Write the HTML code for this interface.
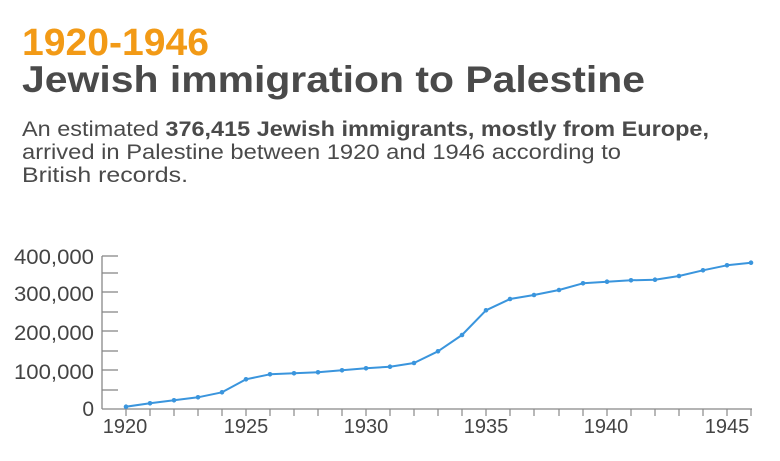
<!DOCTYPE html>
<html><head><meta charset="utf-8"><style>
html,body{margin:0;padding:0;background:#fff;}
svg{display:block;font-family:"Liberation Sans",sans-serif;}
</style></head><body>
<svg width="780" height="461" viewBox="0 0 780 461" xmlns="http://www.w3.org/2000/svg">
<text x="22" y="55" font-size="38" font-weight="bold" fill="#F29A16" textLength="187" lengthAdjust="spacingAndGlyphs">1920-1946</text>
<text x="22" y="92" font-size="37" font-weight="bold" fill="#4a4a4a" textLength="623" lengthAdjust="spacingAndGlyphs">Jewish immigration to Palestine</text>
<text x="22" y="136" font-size="21" fill="#4a4a4a" textLength="687" lengthAdjust="spacingAndGlyphs">An estimated <tspan font-weight="bold">376,415 Jewish immigrants, mostly from Europe,</tspan></text>
<text x="22" y="159" font-size="21" fill="#4a4a4a" textLength="599" lengthAdjust="spacingAndGlyphs">arrived in Palestine between 1920 and 1946 according to</text>
<text x="22" y="182" font-size="21" fill="#4a4a4a" textLength="166" lengthAdjust="spacingAndGlyphs">British records.</text>
<g stroke="#888" stroke-width="1.3" fill="none">
<line x1="102" y1="256" x2="102" y2="409"/>
<line x1="102" y1="409" x2="752" y2="409"/>
<line x1="102" y1="256" x2="118" y2="256"/><line x1="102" y1="273" x2="118" y2="273"/>
<line x1="102" y1="292" x2="118" y2="292"/><line x1="102" y1="312" x2="118" y2="312"/>
<line x1="102" y1="331" x2="118" y2="331"/><line x1="102" y1="351" x2="118" y2="351"/>
<line x1="102" y1="370" x2="118" y2="370"/><line x1="102" y1="390" x2="118" y2="390"/>
</g>
<g font-size="21" fill="#444">
<text x="14" y="264" textLength="80" lengthAdjust="spacingAndGlyphs">400,000</text>
<text x="14" y="301" textLength="80" lengthAdjust="spacingAndGlyphs">300,000</text>
<text x="14" y="340" textLength="80" lengthAdjust="spacingAndGlyphs">200,000</text>
<text x="14" y="379" textLength="80" lengthAdjust="spacingAndGlyphs">100,000</text>
<text x="94" y="416" text-anchor="end">0</text>
</g>
<g font-size="20" fill="#444" text-anchor="middle">
<text x="125" y="433">1920</text><text x="246" y="433">1925</text><text x="366" y="433">1930</text>
<text x="486" y="433">1935</text><text x="606" y="433">1940</text><text x="727" y="433">1945</text>
</g>
<g stroke="#888" stroke-width="1.2">
<line x1="126" y1="409" x2="126" y2="416"/><line x1="150" y1="409" x2="150" y2="416"/><line x1="174" y1="409" x2="174" y2="416"/><line x1="198" y1="409" x2="198" y2="416"/><line x1="222" y1="409" x2="222" y2="416"/><line x1="246" y1="409" x2="246" y2="416"/><line x1="270" y1="409" x2="270" y2="416"/><line x1="294" y1="409" x2="294" y2="416"/><line x1="318" y1="409" x2="318" y2="416"/><line x1="342" y1="409" x2="342" y2="416"/><line x1="366" y1="409" x2="366" y2="416"/><line x1="390" y1="409" x2="390" y2="416"/><line x1="414" y1="409" x2="414" y2="416"/><line x1="438" y1="409" x2="438" y2="416"/><line x1="462" y1="409" x2="462" y2="416"/><line x1="486" y1="409" x2="486" y2="416"/><line x1="510" y1="409" x2="510" y2="416"/><line x1="534" y1="409" x2="534" y2="416"/><line x1="559" y1="409" x2="559" y2="416"/><line x1="583" y1="409" x2="583" y2="416"/><line x1="607" y1="409" x2="607" y2="416"/><line x1="631" y1="409" x2="631" y2="416"/><line x1="655" y1="409" x2="655" y2="416"/><line x1="679" y1="409" x2="679" y2="416"/><line x1="703" y1="409" x2="703" y2="416"/><line x1="727" y1="409" x2="727" y2="416"/><line x1="751" y1="409" x2="751" y2="416"/>
</g>
<polyline fill="none" stroke="#3a95dd" stroke-width="2" stroke-linejoin="round" points="126,406.7 150,403.3 174,400.3 198,397.3 222,392.3 246,379.3 270,374.3 294,373.3 318,372.3 342,370.3 366,368.3 390,366.7 414,363 438,351.3 462,335 486,310.3 510,299 534,295 559,290 583,283.3 607,281.7 631,280.3 655,279.7 679,276 703,270.3 727,265.3 751,262.7"/>
<g fill="#3a95dd">
<circle cx="126" cy="406.7" r="2.3"/><circle cx="150" cy="403.3" r="2.3"/><circle cx="174" cy="400.3" r="2.3"/><circle cx="198" cy="397.3" r="2.3"/><circle cx="222" cy="392.3" r="2.3"/><circle cx="246" cy="379.3" r="2.3"/><circle cx="270" cy="374.3" r="2.3"/><circle cx="294" cy="373.3" r="2.3"/><circle cx="318" cy="372.3" r="2.3"/><circle cx="342" cy="370.3" r="2.3"/><circle cx="366" cy="368.3" r="2.3"/><circle cx="390" cy="366.7" r="2.3"/><circle cx="414" cy="363" r="2.3"/><circle cx="438" cy="351.3" r="2.3"/><circle cx="462" cy="335" r="2.3"/><circle cx="486" cy="310.3" r="2.3"/><circle cx="510" cy="299" r="2.3"/><circle cx="534" cy="295" r="2.3"/><circle cx="559" cy="290" r="2.3"/><circle cx="583" cy="283.3" r="2.3"/><circle cx="607" cy="281.7" r="2.3"/><circle cx="631" cy="280.3" r="2.3"/><circle cx="655" cy="279.7" r="2.3"/><circle cx="679" cy="276" r="2.3"/><circle cx="703" cy="270.3" r="2.3"/><circle cx="727" cy="265.3" r="2.3"/><circle cx="751" cy="262.7" r="2.3"/>
</g>
</svg>
</body></html>
